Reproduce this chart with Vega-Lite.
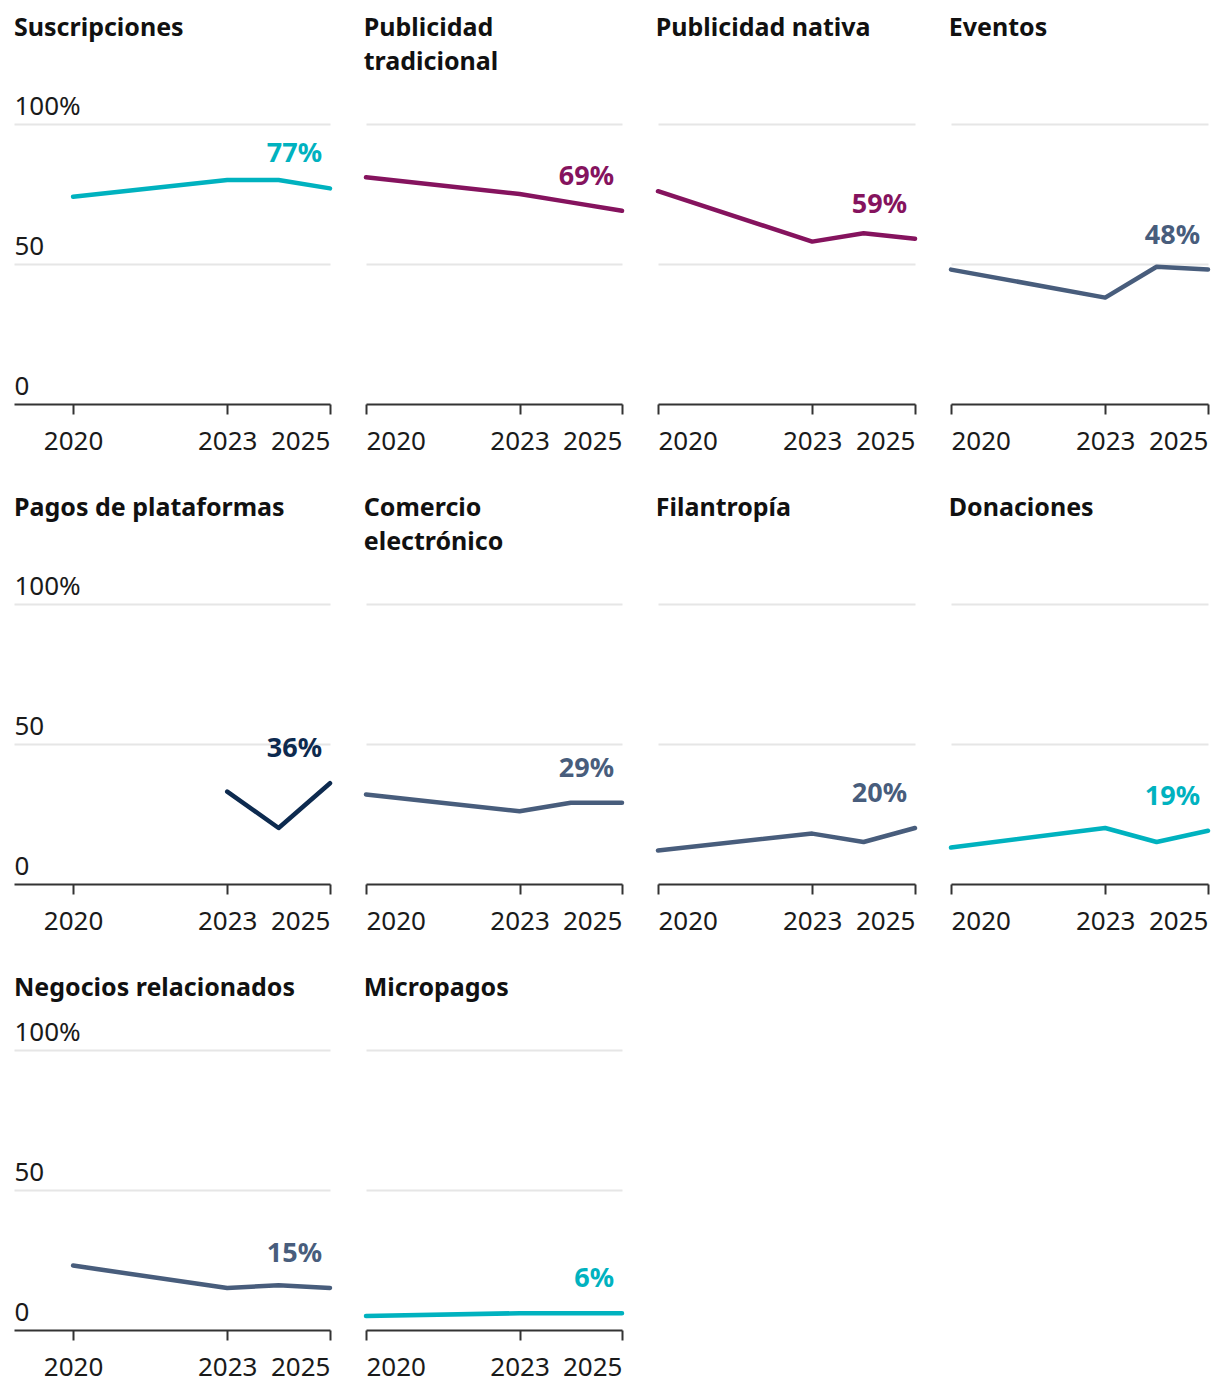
{
  "$schema": "https://vega.github.io/schema/vega-lite/v6.json",
  "background": "white",
  "padding": {"left": 14, "top": 16, "right": 0, "bottom": 10},
  "config": {
    "font": "Noto Sans",
    "view": {"stroke": null},
    "title": {"anchor": "start", "font": "Noto Sans", "fontSize": 25, "fontWeight": "bold", "color": "#111111", "lineHeight": 34, "offset": 49},
    "axis": {"labelFont": "Noto Sans", "labelFontSize": 26, "labelColor": "#1a1a1a", "title": null},
    "line": {"strokeWidth": 4.5, "strokeCap": "round", "strokeJoin": "round"},
    "text": {"font": "Noto Sans", "fontSize": 27, "fontWeight": "bold", "align": "right", "baseline": "alphabetic", "dx": -8, "dy": -26}
  },
  "data": {"values": [
    {"cat": "Suscripciones", "year": 2020, "value": 74},
    {"cat": "Suscripciones", "year": 2023, "value": 80},
    {"cat": "Suscripciones", "year": 2024, "value": 80},
    {"cat": "Suscripciones", "year": 2025, "value": 77},
    {"cat": "Publicidad tradicional", "year": 2020, "value": 81},
    {"cat": "Publicidad tradicional", "year": 2023, "value": 75},
    {"cat": "Publicidad tradicional", "year": 2024, "value": 72},
    {"cat": "Publicidad tradicional", "year": 2025, "value": 69},
    {"cat": "Publicidad nativa", "year": 2020, "value": 76},
    {"cat": "Publicidad nativa", "year": 2023, "value": 58},
    {"cat": "Publicidad nativa", "year": 2024, "value": 61},
    {"cat": "Publicidad nativa", "year": 2025, "value": 59},
    {"cat": "Eventos", "year": 2020, "value": 48},
    {"cat": "Eventos", "year": 2023, "value": 38},
    {"cat": "Eventos", "year": 2024, "value": 49},
    {"cat": "Eventos", "year": 2025, "value": 48},
    {"cat": "Pagos de plataformas", "year": 2023, "value": 33},
    {"cat": "Pagos de plataformas", "year": 2024, "value": 20},
    {"cat": "Pagos de plataformas", "year": 2025, "value": 36},
    {"cat": "Comercio electrónico", "year": 2020, "value": 32},
    {"cat": "Comercio electrónico", "year": 2023, "value": 26},
    {"cat": "Comercio electrónico", "year": 2024, "value": 29},
    {"cat": "Comercio electrónico", "year": 2025, "value": 29},
    {"cat": "Filantropía", "year": 2020, "value": 12},
    {"cat": "Filantropía", "year": 2023, "value": 18},
    {"cat": "Filantropía", "year": 2024, "value": 15},
    {"cat": "Filantropía", "year": 2025, "value": 20},
    {"cat": "Donaciones", "year": 2020, "value": 13},
    {"cat": "Donaciones", "year": 2023, "value": 20},
    {"cat": "Donaciones", "year": 2024, "value": 15},
    {"cat": "Donaciones", "year": 2025, "value": 19},
    {"cat": "Negocios relacionados", "year": 2020, "value": 23},
    {"cat": "Negocios relacionados", "year": 2023, "value": 15},
    {"cat": "Negocios relacionados", "year": 2024, "value": 16},
    {"cat": "Negocios relacionados", "year": 2025, "value": 15},
    {"cat": "Micropagos", "year": 2020, "value": 5},
    {"cat": "Micropagos", "year": 2023, "value": 6},
    {"cat": "Micropagos", "year": 2024, "value": 6},
    {"cat": "Micropagos", "year": 2025, "value": 6}
  ]},
  "columns": 4,
  "spacing": {"row": 42, "column": 30},
  "resolve": {"scale": {"x": "independent", "y": "independent", "color": "independent"}},
  "concat": [
    {
      "width": 316, "height": 280,
      "title": {"text": ["Suscripciones", ""], "offset": 18},
      "transform": [{"filter": "datum.cat == 'Suscripciones'"}],
      "encoding": {
        "x": {"field": "year", "type": "quantitative", "scale": {"domain": [2018.85, 2025], "nice": false, "zero": false}, "axis": {"values": [2020, 2023, 2025], "format": "d", "labelFlush": true, "grid": false, "domainColor": "#333333", "domainWidth": 2, "tickColor": "#333333", "tickWidth": 2, "tickSize": 10, "labelPadding": 14}},
        "y": {"field": "value", "type": "quantitative", "scale": {"domain": [0, 100], "nice": false}, "axis": {"values": [0, 50, 100], "grid": true, "gridColor": {"condition": {"test": "datum.value == 0", "value": "transparent"}, "value": "#e6e6e6"}, "gridWidth": 2, "domain": false, "ticks": false, "tickSize": 0, "labelAlign": "left", "labelPadding": 0, "labelBaseline": "alphabetic", "labelOffset": -10, "labelExpr": "datum.value == 100 ? '100%' : datum.label"}},
        "color": {"field": "cat", "type": "nominal", "legend": null, "scale": {"domain": ["Suscripciones", "Publicidad tradicional", "Publicidad nativa", "Eventos", "Pagos de plataformas", "Comercio electrónico", "Filantropía", "Donaciones", "Negocios relacionados", "Micropagos"], "range": ["#00b2bf", "#85135e", "#85135e", "#485d7c", "#0d2a4f", "#485d7c", "#485d7c", "#00b2bf", "#485d7c", "#00b2bf"]}}
      },
      "layer": [
        {"mark": {"type": "line"}},
        {"transform": [{"filter": "datum.year == 2025"}, {"calculate": "datum.value + '%'", "as": "label"}], "mark": {"type": "text"}, "encoding": {"text": {"field": "label"}}}
      ]
    },
    {
      "width": 256, "height": 280,
      "title": {"text": ["Publicidad", "tradicional"]},
      "transform": [{"filter": "datum.cat == 'Publicidad tradicional'"}],
      "encoding": {
        "x": {"field": "year", "type": "quantitative", "scale": {"domain": [2020, 2025], "nice": false, "zero": false}, "axis": {"values": [2020, 2023, 2025], "format": "d", "labelFlush": true, "grid": false, "domainColor": "#333333", "domainWidth": 2, "tickColor": "#333333", "tickWidth": 2, "tickSize": 10, "labelPadding": 14}},
        "y": {"field": "value", "type": "quantitative", "scale": {"domain": [0, 100], "nice": false}, "axis": {"values": [0, 50, 100], "grid": true, "gridColor": {"condition": {"test": "datum.value == 0", "value": "transparent"}, "value": "#e6e6e6"}, "gridWidth": 2, "domain": false, "ticks": false, "tickSize": 0, "labels": false}},
        "color": {"field": "cat", "type": "nominal", "legend": null, "scale": {"domain": ["Suscripciones", "Publicidad tradicional", "Publicidad nativa", "Eventos", "Pagos de plataformas", "Comercio electrónico", "Filantropía", "Donaciones", "Negocios relacionados", "Micropagos"], "range": ["#00b2bf", "#85135e", "#85135e", "#485d7c", "#0d2a4f", "#485d7c", "#485d7c", "#00b2bf", "#485d7c", "#00b2bf"]}}
      },
      "layer": [
        {"mark": {"type": "line"}},
        {"transform": [{"filter": "datum.year == 2025"}, {"calculate": "datum.value + '%'", "as": "label"}], "mark": {"type": "text"}, "encoding": {"text": {"field": "label"}}}
      ]
    },
    {
      "width": 257, "height": 280,
      "title": {"text": ["Publicidad nativa", ""]},
      "transform": [{"filter": "datum.cat == 'Publicidad nativa'"}],
      "encoding": {
        "x": {"field": "year", "type": "quantitative", "scale": {"domain": [2020, 2025], "nice": false, "zero": false}, "axis": {"values": [2020, 2023, 2025], "format": "d", "labelFlush": true, "grid": false, "domainColor": "#333333", "domainWidth": 2, "tickColor": "#333333", "tickWidth": 2, "tickSize": 10, "labelPadding": 14}},
        "y": {"field": "value", "type": "quantitative", "scale": {"domain": [0, 100], "nice": false}, "axis": {"values": [0, 50, 100], "grid": true, "gridColor": {"condition": {"test": "datum.value == 0", "value": "transparent"}, "value": "#e6e6e6"}, "gridWidth": 2, "domain": false, "ticks": false, "tickSize": 0, "labels": false}},
        "color": {"field": "cat", "type": "nominal", "legend": null, "scale": {"domain": ["Suscripciones", "Publicidad tradicional", "Publicidad nativa", "Eventos", "Pagos de plataformas", "Comercio electrónico", "Filantropía", "Donaciones", "Negocios relacionados", "Micropagos"], "range": ["#00b2bf", "#85135e", "#85135e", "#485d7c", "#0d2a4f", "#485d7c", "#485d7c", "#00b2bf", "#485d7c", "#00b2bf"]}}
      },
      "layer": [
        {"mark": {"type": "line"}},
        {"transform": [{"filter": "datum.year == 2025"}, {"calculate": "datum.value + '%'", "as": "label"}], "mark": {"type": "text"}, "encoding": {"text": {"field": "label"}}}
      ]
    },
    {
      "width": 257, "height": 280,
      "title": {"text": ["Eventos", ""]},
      "transform": [{"filter": "datum.cat == 'Eventos'"}],
      "encoding": {
        "x": {"field": "year", "type": "quantitative", "scale": {"domain": [2020, 2025], "nice": false, "zero": false}, "axis": {"values": [2020, 2023, 2025], "format": "d", "labelFlush": true, "grid": false, "domainColor": "#333333", "domainWidth": 2, "tickColor": "#333333", "tickWidth": 2, "tickSize": 10, "labelPadding": 14}},
        "y": {"field": "value", "type": "quantitative", "scale": {"domain": [0, 100], "nice": false}, "axis": {"values": [0, 50, 100], "grid": true, "gridColor": {"condition": {"test": "datum.value == 0", "value": "transparent"}, "value": "#e6e6e6"}, "gridWidth": 2, "domain": false, "ticks": false, "tickSize": 0, "labels": false}},
        "color": {"field": "cat", "type": "nominal", "legend": null, "scale": {"domain": ["Suscripciones", "Publicidad tradicional", "Publicidad nativa", "Eventos", "Pagos de plataformas", "Comercio electrónico", "Filantropía", "Donaciones", "Negocios relacionados", "Micropagos"], "range": ["#00b2bf", "#85135e", "#85135e", "#485d7c", "#0d2a4f", "#485d7c", "#485d7c", "#00b2bf", "#485d7c", "#00b2bf"]}}
      },
      "layer": [
        {"mark": {"type": "line"}},
        {"transform": [{"filter": "datum.year == 2025"}, {"calculate": "datum.value + '%'", "as": "label"}], "mark": {"type": "text"}, "encoding": {"text": {"field": "label"}}}
      ]
    },
    {
      "width": 316, "height": 280,
      "title": {"text": ["Pagos de plataformas", ""], "offset": 18},
      "transform": [{"filter": "datum.cat == 'Pagos de plataformas'"}],
      "encoding": {
        "x": {"field": "year", "type": "quantitative", "scale": {"domain": [2018.85, 2025], "nice": false, "zero": false}, "axis": {"values": [2020, 2023, 2025], "format": "d", "labelFlush": true, "grid": false, "domainColor": "#333333", "domainWidth": 2, "tickColor": "#333333", "tickWidth": 2, "tickSize": 10, "labelPadding": 14}},
        "y": {"field": "value", "type": "quantitative", "scale": {"domain": [0, 100], "nice": false}, "axis": {"values": [0, 50, 100], "grid": true, "gridColor": {"condition": {"test": "datum.value == 0", "value": "transparent"}, "value": "#e6e6e6"}, "gridWidth": 2, "domain": false, "ticks": false, "tickSize": 0, "labelAlign": "left", "labelPadding": 0, "labelBaseline": "alphabetic", "labelOffset": -10, "labelExpr": "datum.value == 100 ? '100%' : datum.label"}},
        "color": {"field": "cat", "type": "nominal", "legend": null, "scale": {"domain": ["Suscripciones", "Publicidad tradicional", "Publicidad nativa", "Eventos", "Pagos de plataformas", "Comercio electrónico", "Filantropía", "Donaciones", "Negocios relacionados", "Micropagos"], "range": ["#00b2bf", "#85135e", "#85135e", "#485d7c", "#0d2a4f", "#485d7c", "#485d7c", "#00b2bf", "#485d7c", "#00b2bf"]}}
      },
      "layer": [
        {"mark": {"type": "line"}},
        {"transform": [{"filter": "datum.year == 2025"}, {"calculate": "datum.value + '%'", "as": "label"}], "mark": {"type": "text"}, "encoding": {"text": {"field": "label"}}}
      ]
    },
    {
      "width": 256, "height": 280,
      "title": {"text": ["Comercio", "electrónico"]},
      "transform": [{"filter": "datum.cat == 'Comercio electrónico'"}],
      "encoding": {
        "x": {"field": "year", "type": "quantitative", "scale": {"domain": [2020, 2025], "nice": false, "zero": false}, "axis": {"values": [2020, 2023, 2025], "format": "d", "labelFlush": true, "grid": false, "domainColor": "#333333", "domainWidth": 2, "tickColor": "#333333", "tickWidth": 2, "tickSize": 10, "labelPadding": 14}},
        "y": {"field": "value", "type": "quantitative", "scale": {"domain": [0, 100], "nice": false}, "axis": {"values": [0, 50, 100], "grid": true, "gridColor": {"condition": {"test": "datum.value == 0", "value": "transparent"}, "value": "#e6e6e6"}, "gridWidth": 2, "domain": false, "ticks": false, "tickSize": 0, "labels": false}},
        "color": {"field": "cat", "type": "nominal", "legend": null, "scale": {"domain": ["Suscripciones", "Publicidad tradicional", "Publicidad nativa", "Eventos", "Pagos de plataformas", "Comercio electrónico", "Filantropía", "Donaciones", "Negocios relacionados", "Micropagos"], "range": ["#00b2bf", "#85135e", "#85135e", "#485d7c", "#0d2a4f", "#485d7c", "#485d7c", "#00b2bf", "#485d7c", "#00b2bf"]}}
      },
      "layer": [
        {"mark": {"type": "line"}},
        {"transform": [{"filter": "datum.year == 2025"}, {"calculate": "datum.value + '%'", "as": "label"}], "mark": {"type": "text"}, "encoding": {"text": {"field": "label"}}}
      ]
    },
    {
      "width": 257, "height": 280,
      "title": {"text": ["Filantropía", ""]},
      "transform": [{"filter": "datum.cat == 'Filantropía'"}],
      "encoding": {
        "x": {"field": "year", "type": "quantitative", "scale": {"domain": [2020, 2025], "nice": false, "zero": false}, "axis": {"values": [2020, 2023, 2025], "format": "d", "labelFlush": true, "grid": false, "domainColor": "#333333", "domainWidth": 2, "tickColor": "#333333", "tickWidth": 2, "tickSize": 10, "labelPadding": 14}},
        "y": {"field": "value", "type": "quantitative", "scale": {"domain": [0, 100], "nice": false}, "axis": {"values": [0, 50, 100], "grid": true, "gridColor": {"condition": {"test": "datum.value == 0", "value": "transparent"}, "value": "#e6e6e6"}, "gridWidth": 2, "domain": false, "ticks": false, "tickSize": 0, "labels": false}},
        "color": {"field": "cat", "type": "nominal", "legend": null, "scale": {"domain": ["Suscripciones", "Publicidad tradicional", "Publicidad nativa", "Eventos", "Pagos de plataformas", "Comercio electrónico", "Filantropía", "Donaciones", "Negocios relacionados", "Micropagos"], "range": ["#00b2bf", "#85135e", "#85135e", "#485d7c", "#0d2a4f", "#485d7c", "#485d7c", "#00b2bf", "#485d7c", "#00b2bf"]}}
      },
      "layer": [
        {"mark": {"type": "line"}},
        {"transform": [{"filter": "datum.year == 2025"}, {"calculate": "datum.value + '%'", "as": "label"}], "mark": {"type": "text"}, "encoding": {"text": {"field": "label"}}}
      ]
    },
    {
      "width": 257, "height": 280,
      "title": {"text": ["Donaciones", ""]},
      "transform": [{"filter": "datum.cat == 'Donaciones'"}],
      "encoding": {
        "x": {"field": "year", "type": "quantitative", "scale": {"domain": [2020, 2025], "nice": false, "zero": false}, "axis": {"values": [2020, 2023, 2025], "format": "d", "labelFlush": true, "grid": false, "domainColor": "#333333", "domainWidth": 2, "tickColor": "#333333", "tickWidth": 2, "tickSize": 10, "labelPadding": 14}},
        "y": {"field": "value", "type": "quantitative", "scale": {"domain": [0, 100], "nice": false}, "axis": {"values": [0, 50, 100], "grid": true, "gridColor": {"condition": {"test": "datum.value == 0", "value": "transparent"}, "value": "#e6e6e6"}, "gridWidth": 2, "domain": false, "ticks": false, "tickSize": 0, "labels": false}},
        "color": {"field": "cat", "type": "nominal", "legend": null, "scale": {"domain": ["Suscripciones", "Publicidad tradicional", "Publicidad nativa", "Eventos", "Pagos de plataformas", "Comercio electrónico", "Filantropía", "Donaciones", "Negocios relacionados", "Micropagos"], "range": ["#00b2bf", "#85135e", "#85135e", "#485d7c", "#0d2a4f", "#485d7c", "#485d7c", "#00b2bf", "#485d7c", "#00b2bf"]}}
      },
      "layer": [
        {"mark": {"type": "line"}},
        {"transform": [{"filter": "datum.year == 2025"}, {"calculate": "datum.value + '%'", "as": "label"}], "mark": {"type": "text"}, "encoding": {"text": {"field": "label"}}}
      ]
    },
    {
      "width": 316, "height": 280,
      "title": {"text": "Negocios relacionados", "offset": 18},
      "transform": [{"filter": "datum.cat == 'Negocios relacionados'"}],
      "encoding": {
        "x": {"field": "year", "type": "quantitative", "scale": {"domain": [2018.85, 2025], "nice": false, "zero": false}, "axis": {"values": [2020, 2023, 2025], "format": "d", "labelFlush": true, "grid": false, "domainColor": "#333333", "domainWidth": 2, "tickColor": "#333333", "tickWidth": 2, "tickSize": 10, "labelPadding": 14}},
        "y": {"field": "value", "type": "quantitative", "scale": {"domain": [0, 100], "nice": false}, "axis": {"values": [0, 50, 100], "grid": true, "gridColor": {"condition": {"test": "datum.value == 0", "value": "transparent"}, "value": "#e6e6e6"}, "gridWidth": 2, "domain": false, "ticks": false, "tickSize": 0, "labelAlign": "left", "labelPadding": 0, "labelBaseline": "alphabetic", "labelOffset": -10, "labelExpr": "datum.value == 100 ? '100%' : datum.label"}},
        "color": {"field": "cat", "type": "nominal", "legend": null, "scale": {"domain": ["Suscripciones", "Publicidad tradicional", "Publicidad nativa", "Eventos", "Pagos de plataformas", "Comercio electrónico", "Filantropía", "Donaciones", "Negocios relacionados", "Micropagos"], "range": ["#00b2bf", "#85135e", "#85135e", "#485d7c", "#0d2a4f", "#485d7c", "#485d7c", "#00b2bf", "#485d7c", "#00b2bf"]}}
      },
      "layer": [
        {"mark": {"type": "line"}},
        {"transform": [{"filter": "datum.year == 2025"}, {"calculate": "datum.value + '%'", "as": "label"}], "mark": {"type": "text"}, "encoding": {"text": {"field": "label"}}}
      ]
    },
    {
      "width": 256, "height": 280,
      "title": {"text": "Micropagos"},
      "transform": [{"filter": "datum.cat == 'Micropagos'"}],
      "encoding": {
        "x": {"field": "year", "type": "quantitative", "scale": {"domain": [2020, 2025], "nice": false, "zero": false}, "axis": {"values": [2020, 2023, 2025], "format": "d", "labelFlush": true, "grid": false, "domainColor": "#333333", "domainWidth": 2, "tickColor": "#333333", "tickWidth": 2, "tickSize": 10, "labelPadding": 14}},
        "y": {"field": "value", "type": "quantitative", "scale": {"domain": [0, 100], "nice": false}, "axis": {"values": [0, 50, 100], "grid": true, "gridColor": {"condition": {"test": "datum.value == 0", "value": "transparent"}, "value": "#e6e6e6"}, "gridWidth": 2, "domain": false, "ticks": false, "tickSize": 0, "labels": false}},
        "color": {"field": "cat", "type": "nominal", "legend": null, "scale": {"domain": ["Suscripciones", "Publicidad tradicional", "Publicidad nativa", "Eventos", "Pagos de plataformas", "Comercio electrónico", "Filantropía", "Donaciones", "Negocios relacionados", "Micropagos"], "range": ["#00b2bf", "#85135e", "#85135e", "#485d7c", "#0d2a4f", "#485d7c", "#485d7c", "#00b2bf", "#485d7c", "#00b2bf"]}}
      },
      "layer": [
        {"mark": {"type": "line"}},
        {"transform": [{"filter": "datum.year == 2025"}, {"calculate": "datum.value + '%'", "as": "label"}], "mark": {"type": "text"}, "encoding": {"text": {"field": "label"}}}
      ]
    }
  ]
}
